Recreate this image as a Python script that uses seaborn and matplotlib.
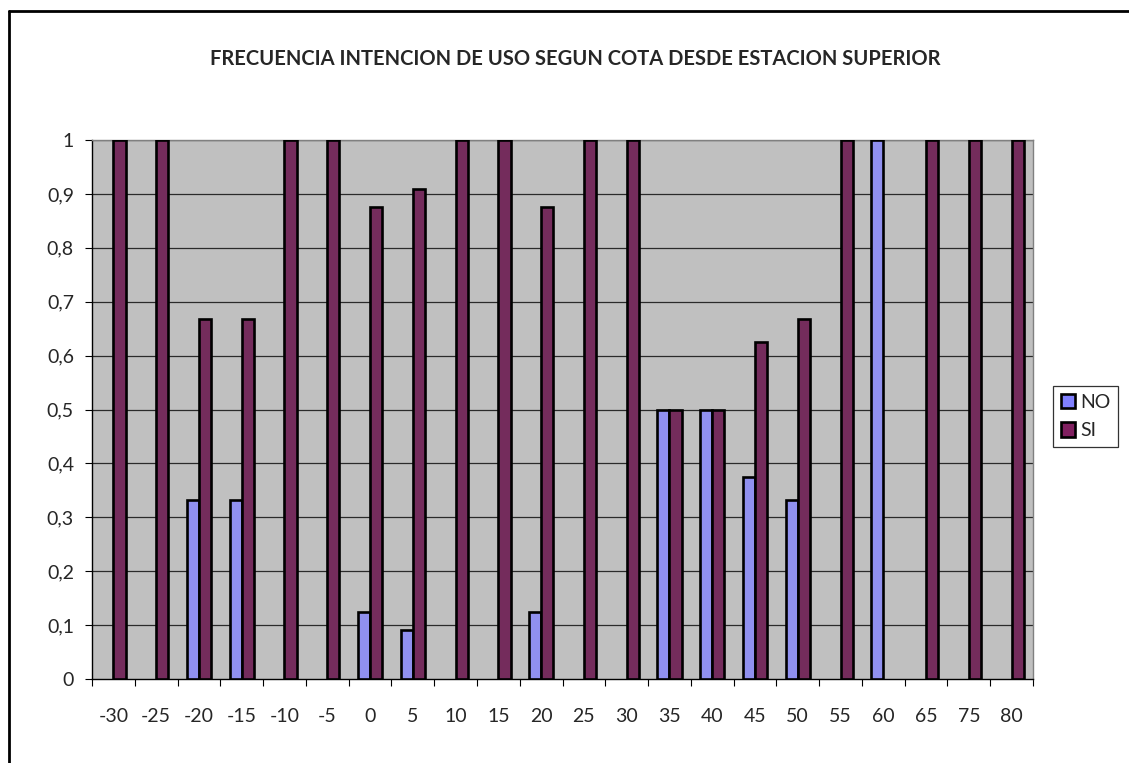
import matplotlib.pyplot as plt
import matplotlib.lines as mlines
import pandas as pd
import seaborn as sns

# Datos: frecuencia de intención de uso según cota
cotas = [-30, -25, -20, -15, -10, -5, 0, 5, 10, 15, 20, 25, 30,
         35, 40, 45, 50, 55, 60, 65, 75, 80]
frec_no = [0, 0, 0.333, 0.333, 0, 0, 0.125, 0.091, 0, 0, 0.125, 0, 0,
           0.5, 0.5, 0.375, 0.333, 0, 1, 0, 0, 0]
frec_si = [1, 1, 0.667, 0.667, 1, 1, 0.875, 0.909, 1, 1, 0.875, 1, 1,
           0.5, 0.5, 0.625, 0.667, 1, 0, 1, 1, 1]
series = ["NO", "SI"]
colores = {"NO": "#8080FF", "SI": "#802060"}
yticks = [0, 0.1, 0.2, 0.3, 0.4, 0.5, 0.6, 0.7, 0.8, 0.9, 1]
ylabels = ["0", "0,1", "0,2", "0,3", "0,4", "0,5", "0,6", "0,7", "0,8",
           "0,9", "1"]

df = pd.DataFrame({
    "cota": [str(c) for c in cotas] * 2,
    "serie": ["NO"] * len(cotas) + ["SI"] * len(cotas),
    "valor": frec_no + frec_si,
})

sns.set_style("white")
plt.rcParams["font.family"] = ["Lato", "DejaVu Sans"]

fig = plt.figure(figsize=(11.29, 7.63), dpi=100)
ax = fig.add_axes([92 / 1129, 1 - 679 / 763, 941 / 1129, 539 / 763])
ax.set_facecolor("#C0C0C0")

sns.barplot(data=df, x="cota", y="valor", hue="serie",
            order=[str(c) for c in cotas], hue_order=series,
            palette=colores, width=0.57, gap=0, dodge=True,
            edgecolor="black", linewidth=1.9, ax=ax, zorder=3)

# las barras con valor cero no se ven en el original
for barra in ax.patches:
    if barra.get_height() == 0:
        barra.set_visible(False)

ax.set_xlim(-0.5, len(cotas) - 0.5)
ax.set_ylim(0, 1)
ax.set_yticks(yticks)
ax.set_yticklabels(ylabels)
for y in yticks[1:]:
    ax.axhline(y, color="#2a2a2a", linewidth=0.9, zorder=1)

ax.set_xticks(range(len(cotas)))
ax.set_xticklabels([str(c) for c in cotas])
ax.tick_params(axis="x", which="major", length=0, pad=21, labelsize=14)
ax.set_xticks([i - 0.5 for i in range(len(cotas) + 1)], minor=True)
ax.tick_params(axis="x", which="minor", bottom=True, length=5,
               width=0.8, color="black")
ax.tick_params(axis="y", left=True, length=5, width=0.8, color="black",
               pad=8, labelsize=14)
ax.set_xlabel("")
ax.set_ylabel("")

for lado in ["top", "right"]:
    ax.spines[lado].set_color("#808080")
    ax.spines[lado].set_linewidth(1)
for lado in ["left", "bottom"]:
    ax.spines[lado].set_color("black")
    ax.spines[lado].set_linewidth(1)

ax.legend_.remove()
handles = [plt.Rectangle((0, 0), 1, 1, facecolor=colores[s],
                         edgecolor="black", linewidth=1.9) for s in series]
leg = fig.legend(handles, series, loc="lower left",
                 bbox_to_anchor=(1053 / 1129, 1 - 447 / 763),
                 frameon=True, fancybox=False, edgecolor="black",
                 fontsize=14, handlelength=0.75, handleheight=0.75,
                 handletextpad=0.25, labelspacing=0.6, borderpad=0.4,
                 borderaxespad=0)
leg.get_frame().set_linewidth(0.9)

fig.text(575 / 1129, 1 - 59 / 763,
         "FRECUENCIA INTENCION DE USO SEGUN COTA DESDE ESTACION SUPERIOR",
         ha="center", va="center", fontsize=14.5, fontweight="bold")

# Marco exterior del gráfico (solo visibles borde superior e izquierdo)
y0 = 1 - 11 / 763
x0 = 9 / 1129
fig.add_artist(mlines.Line2D([x0, x0], [0, y0], color="black", linewidth=2))
fig.add_artist(mlines.Line2D([x0, 1], [y0, y0], color="black", linewidth=2))

fig.savefig("out.png", dpi=100)
